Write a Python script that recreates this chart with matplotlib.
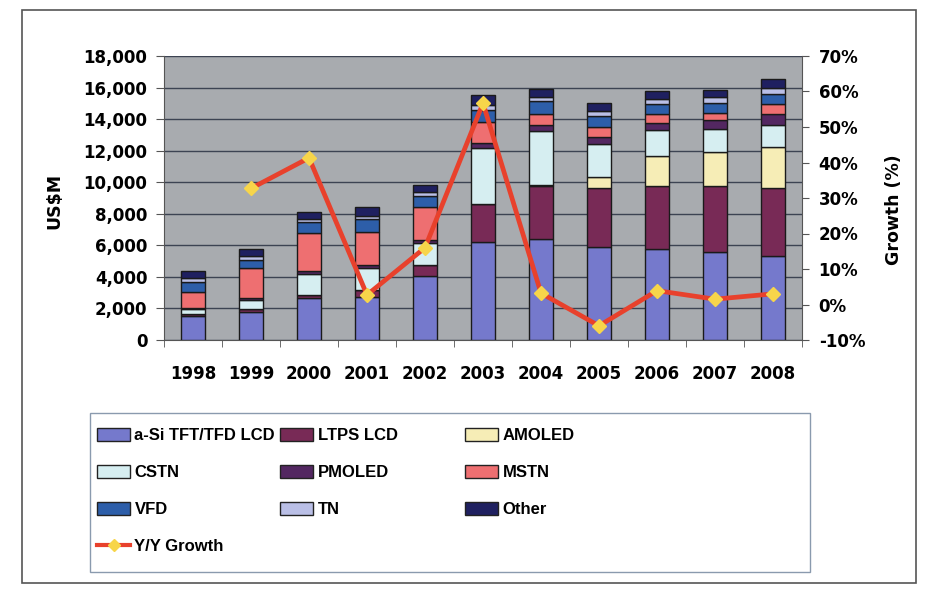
import numpy as np
import matplotlib.pyplot as plt
from matplotlib.patches import Patch, Rectangle
from matplotlib.lines import Line2D
from matplotlib.ticker import FuncFormatter

# display revenue by technology, US$M
years = ["1998", "1999", "2000", "2001", "2002", "2003",
         "2004", "2005", "2006", "2007", "2008"]
asi    = [1550, 1800, 2650, 2750, 4050, 6200, 6400, 5900, 5750, 5550, 5350]
ltps   = [100, 150, 200, 400, 700, 2400, 3350, 3750, 4000, 4200, 4300]
amoled = [0, 0, 0, 0, 0, 0, 100, 650, 1900, 2150, 2600]
cstn   = [300, 600, 1350, 1400, 1400, 3550, 3400, 2100, 1650, 1450, 1350]
pmoled = [50, 100, 150, 200, 200, 350, 350, 450, 450, 600, 750]
mstn   = [1050, 1900, 2450, 2100, 2100, 1300, 750, 650, 600, 450, 600]
vfd    = [600, 550, 700, 800, 650, 800, 800, 700, 600, 650, 650]
tn     = [250, 200, 200, 200, 250, 300, 250, 300, 300, 350, 400]
other  = [450, 450, 400, 550, 450, 600, 500, 500, 550, 450, 550]
growth = [np.nan, 32.7, 41.3, 2.7, 16.0, 56.7, 3.2, -6.0, 3.9, 1.5, 3.0]

series = [
    ("a-Si TFT/TFD LCD", asi, "#7579cc"),
    ("LTPS LCD", ltps, "#782a56"),
    ("AMOLED", amoled, "#f6edb6"),
    ("CSTN", cstn, "#d6eef1"),
    ("PMOLED", pmoled, "#532761"),
    ("MSTN", mstn, "#ee6f71"),
    ("VFD", vfd, "#2d5ea9"),
    ("TN", tn, "#babfe6"),
    ("Other", other, "#1f2060"),
]

W, H = 927, 597
fig = plt.figure(figsize=(W / 100, H / 100), dpi=100)
fig.patch.set_facecolor("white")

ax = fig.add_axes([164 / W, 257 / H, 638 / W, 284 / H])
ax.set_facecolor("#a8abaf")

x = np.arange(len(years))
bottom = np.zeros(len(years))
for name, vals, col in series:
    vals = np.array(vals, dtype=float)
    ax.bar(x, vals, 0.4, bottom=bottom, color=col, edgecolor="#1a1a1a",
           linewidth=1.0, zorder=3)
    bottom += vals

ax.set_xlim(-0.5, len(years) - 0.5)
ax.set_ylim(0, 18000)
ax.set_yticks(np.arange(0, 18001, 2000))
ax.yaxis.set_major_formatter(FuncFormatter(lambda v, p: f"{v:,.0f}"))
ax.set_xticks(x)
ax.set_xticklabels(years)
ax.set_xticks(np.arange(-0.5, len(years), 1), minor=True)
ax.tick_params(axis="x", which="major", length=0, pad=18)
ax.tick_params(axis="x", which="minor", length=5, color="#555555")
ax.tick_params(axis="y", length=6, pad=6, color="#555555")
ax.yaxis.grid(True, color="#3c4352", linewidth=1.0, zorder=1)
ax.set_axisbelow(True)
for s in ["top", "right"]:
    ax.spines[s].set_visible(False)
for s in ["left", "bottom"]:
    ax.spines[s].set_color("#555555")

tick_font = dict(family="DejaVu Sans", weight="bold", size=12)
for lab in ax.get_xticklabels() + ax.get_yticklabels():
    lab.set(**tick_font)
ax.set_ylabel("US$M", fontdict=dict(family="DejaVu Sans", weight="bold", size=12.5))
ax.yaxis.set_label_coords(-0.158, 0.49)

# growth on the secondary axis
ax2 = ax.twinx()
ax2.plot(x, growth, color="#e8412c", linewidth=3.4, marker="D",
         markersize=7, markerfacecolor="#f7d54a", markeredgecolor="#f7d54a",
         zorder=5)
ax2.set_ylim(-10, 70)
ax2.set_yticks(np.arange(-10, 71, 10))
ax2.yaxis.set_major_formatter(FuncFormatter(lambda v, p: f"{v:.0f}%"))
ax2.tick_params(axis="y", length=5, pad=7, color="#555555")
for s in ["top", "left", "bottom"]:
    ax2.spines[s].set_visible(False)
ax2.spines["right"].set_color("#555555")
for lab in ax2.get_yticklabels():
    lab.set(**tick_font)
ax2.set_ylabel("Growth (%)", fontdict=dict(family="DejaVu Sans", weight="bold", size=12.5))
ax2.yaxis.set_label_coords(1.130, 0.46)

# legend: three columns placed by hand, boxed
handles = {name: Patch(facecolor=col, edgecolor="#222222", linewidth=1.0)
           for name, _, col in series}
line_handle = Line2D([], [], color="#e8412c", linewidth=3, marker="D",
                     markersize=6, markerfacecolor="#f7d54a",
                     markeredgecolor="#f7d54a")
columns = [
    (97, ["a-Si TFT/TFD LCD", "CSTN", "VFD", "Y/Y Growth"]),
    (280, ["LTPS LCD", "PMOLED", "TN"]),
    (465, ["AMOLED", "MSTN", "Other"]),
]
leg_font = dict(family="Liberation Sans", weight="bold", size=12)
for xpos, names in columns:
    hs = [line_handle if n == "Y/Y Growth" else handles[n] for n in names]
    leg = fig.legend(hs, names, loc="upper left",
                     bbox_to_anchor=(xpos / W, 1 - 428 / H),
                     frameon=False, prop=leg_font, borderpad=0,
                     borderaxespad=0, handlelength=2.0, handleheight=0.8,
                     handletextpad=0.25, labelspacing=1.31)

fig.patches.append(Rectangle((90 / W, 25 / H), 720 / W, 159 / H,
                             transform=fig.transFigure, fill=False,
                             edgecolor="#8a9aae", linewidth=1.0))
fig.patches.append(Rectangle((22 / W, 14 / H), 894 / W, 573 / H,
                             transform=fig.transFigure, fill=False,
                             edgecolor="#555555", linewidth=1.2))

fig.savefig("out.png", dpi=100)
